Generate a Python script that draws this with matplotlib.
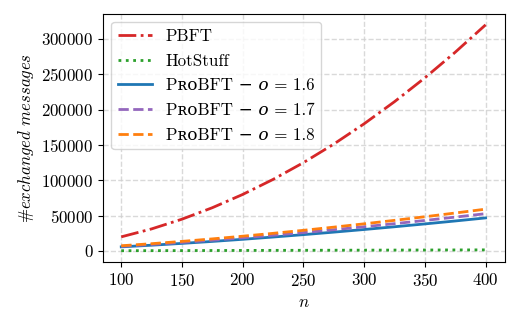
import matplotlib
matplotlib.use("Agg")
import matplotlib.pyplot as plt

n = [100, 125, 150, 175, 200, 225, 250, 275, 300, 325, 350, 375, 400]
pbft = [20000, 31250, 45000, 61250, 80000, 101250, 125000, 151250, 180000, 211250, 245000, 281250, 320000]
hotstuff = [400, 500, 600, 700, 800, 900, 1000, 1100, 1200, 1300, 1400, 1500, 1600]
probft_16 = [5850, 8180, 10750, 13540, 16540, 19740, 23130, 26680, 30400, 34280, 38310, 42480, 46800]
probft_17 = [6600, 9220, 12120, 15280, 18670, 22280, 26090, 30100, 34290, 38670, 43220, 47930, 52800]
probft_18 = [7400, 10340, 13590, 17130, 20930, 24980, 29250, 33740, 38450, 43360, 48460, 53740, 59200]

labels = ["PBFT", "HotStuff",
          "PʀᴏBFT − 𝑜 = 1.6",
          "PʀᴏBFT − 𝑜 = 1.7",
          "PʀᴏBFT − 𝑜 = 1.8"]

plt.rcParams['font.family'] = ['cmr10', 'DejaVu Serif', 'STIXGeneral', 'DejaVu Sans']
plt.rcParams['mathtext.fontset'] = 'cm'
plt.rcParams['axes.formatter.use_mathtext'] = True
plt.rcParams['font.size'] = 12.2

fig = plt.figure(figsize=(5.19, 3.28), dpi=100)
ax = fig.add_axes([0.1985, 0.2012, 0.7746, 0.7576])

lw = 2
ax.plot(n, pbft, color='#d62728', linestyle='-.', lw=lw, label=labels[0])
ax.plot(n, hotstuff, color='#2ca02c', linestyle=':', lw=lw, label=labels[1])
ax.plot(n, probft_16, color='#1f77b4', linestyle='-', lw=lw, label=labels[2])
ax.plot(n, probft_17, color='#9467bd', linestyle='--', lw=lw, label=labels[3])
ax.plot(n, probft_18, color='#ff7f0e', linestyle='--', lw=lw, label=labels[4])

ax.set_xlim(85, 416)
ax.set_xticks([100, 150, 200, 250, 300, 350, 400])
ax.set_yticks([0, 50000, 100000, 150000, 200000, 250000, 300000])
ax.grid(True, linestyle='--', color='#d0d0d0', lw=1, alpha=0.8)
ax.set_axisbelow(True)
ax.set_xlabel(r"$n$")
ax.set_ylabel("#" + r"$exchanged\ messages$")
ax.legend(loc='upper left', frameon=True, fancybox=True, framealpha=0.8,
          edgecolor='#cccccc', labelspacing=0.55)

fig.savefig("out.png", dpi=100)
